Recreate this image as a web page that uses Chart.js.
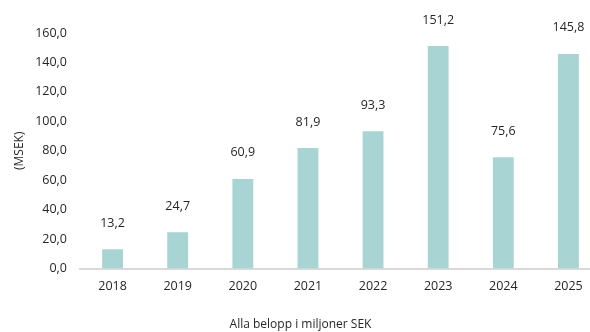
<!DOCTYPE html>
<html>
<head>
<meta charset="utf-8">
<script src="https://cdn.jsdelivr.net/npm/chart.js@4.4.1/dist/chart.umd.min.js"></script>
<style>
  html, body { margin: 0; padding: 0; background: #fff; overflow: hidden; }
  #wrap { width: 601px; height: 332px; }
</style>
</head>
<body>
<div id="wrap"><canvas id="chart" width="601" height="332"></canvas></div>
<script>
const years = ["2018", "2019", "2020", "2021", "2022", "2023", "2024", "2025"];
const values = [13.2, 24.7, 60.9, 81.9, 93.3, 151.2, 75.6, 145.8];
const yTicks = [0, 20, 40, 60, 80, 100, 120, 140, 160];

const textColor = "#262626";
const barColor = "#a8d4d4";
const fontFamily = "'Open Sans', Lato, sans-serif";

const fmt = v => Number(v).toFixed(1).replace(".", ",");

// value labels above each bar
const valueLabels = {
  id: "valueLabels",
  afterDatasetsDraw(chart) {
    const ctx = chart.ctx;
    const meta = chart.getDatasetMeta(0);
    ctx.save();
    ctx.font = "12.5px " + fontFamily;
    ctx.fillStyle = textColor;
    ctx.textAlign = "center";
    ctx.textBaseline = "middle";
    meta.data.forEach((bar, i) => {
      ctx.fillText(fmt(values[i]), bar.x, bar.y - 26);
    });
    ctx.restore();
  }
};

new Chart(document.getElementById("chart").getContext("2d"), {
  type: "bar",
  data: {
    labels: years,
    datasets: [{
      data: values,
      backgroundColor: barColor,
      borderWidth: 0,
      categoryPercentage: 1,
      barPercentage: 0.32,
    }]
  },
  options: {
    responsive: false,
    animation: false,
    devicePixelRatio: 1,
    layout: { padding: { top: 33, left: 0, right: 0, bottom: 0 } },
    plugins: {
      legend: { display: false },
      tooltip: { enabled: false },
      title: {
        display: true,
        position: "bottom",
        text: "Alla belopp i miljoner SEK",
        color: textColor,
        font: { family: fontFamily, size: 12, weight: "normal" },
        padding: { top: 14, bottom: 0 },
      }
    },
    scales: {
      x: {
        grid: { display: false, drawTicks: false },
        border: { display: true, color: "#d9d9d9", width: 2 },
        ticks: { color: textColor, padding: 10, font: { family: fontFamily, size: 12.5 } },
      },
      y: {
        min: 0,
        max: 160,
        afterBuildTicks: axis => { axis.ticks = yTicks.map(v => ({ value: v })); },
        afterFit: axis => { axis.width = 80; },
        grid: { display: false, drawTicks: false },
        border: { display: false },
        ticks: {
          color: textColor,
          padding: 13,
          font: { family: fontFamily, size: 12.5 },
          callback: v => fmt(v),
        },
        title: {
          display: true,
          text: "(MSEK)",
          color: textColor,
          font: { family: fontFamily, size: 12 },
          padding: { top: 12, bottom: 0 },
        }
      }
    }
  },
  plugins: [valueLabels]
});
</script>
</body>
</html>
